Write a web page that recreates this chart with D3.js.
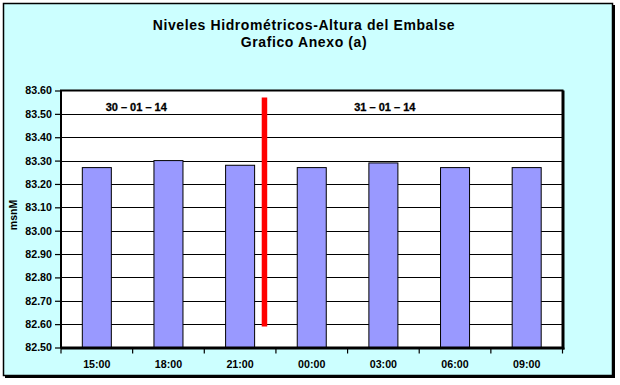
<!DOCTYPE html>
<html>
<head>
<meta charset="utf-8">
<script src="https://cdn.jsdelivr.net/npm/d3@7"></script>
<style>
html,body{margin:0;padding:0;background:#fff;}
svg{display:block;}
text{font-family:"Liberation Sans",Arial,sans-serif;font-weight:bold;fill:#000;}
</style>
</head>
<body>
<svg id="chart" width="620" height="385"></svg>
<script>
// ---- data ----
const categories = ["15:00","18:00","21:00","00:00","03:00","06:00","09:00"];
const levels = [83.27, 83.30, 83.28, 83.27, 83.29, 83.27, 83.27];
const yTicks = [82.50,82.60,82.70,82.80,82.90,83.00,83.10,83.20,83.30,83.40,83.50,83.60];
const titleLines = ["Niveles Hidrométricos-Altura del Embalse","Grafico Anexo (a)"];
const yAxisTitle = "msnM";
const dateLabels = ["30 – 01 – 14","31 – 01 – 14"];
const dateSlots = [1.05, 4.52];        // position along category axis (slots)
const dateLevel = 83.53;               // vertical level of date labels
const dividerSlot = 2.84;              // day divider along category axis (slots)
const dividerRange = [82.59, 83.57];   // divider extent in msnM

// ---- layout ----
const svg = d3.select("#chart");
const plot = {left:61, right:562.5, top:90.5, bottom:347.5};

// outer frame with shadow
svg.append("rect").attr("x",5).attr("y",5).attr("width",610).attr("height",373).attr("fill","#000");
svg.append("rect").attr("x",3.5).attr("y",3.5).attr("width",609).attr("height",372)
  .attr("fill","#CCFFFF").attr("stroke","#000").attr("stroke-width",1.5);

// title
svg.append("text").attr("x",304).attr("y",30).attr("text-anchor","middle")
  .style("font-size","14px").style("letter-spacing","0.6px").text(titleLines[0]);
svg.append("text").attr("x",304).attr("y",47).attr("text-anchor","middle")
  .style("font-size","14px").style("letter-spacing","0.6px").text(titleLines[1]);

const x = d3.scaleBand().domain(categories).range([plot.left, plot.right])
  .paddingInner(0.595).paddingOuter(0.2975);
const slot = d3.scaleLinear().domain([0, categories.length]).range([plot.left, plot.right]);
const y = d3.scaleLinear().domain([82.5, 83.6]).range([plot.bottom, plot.top]);

// plot area
svg.append("rect").attr("x",plot.left).attr("y",plot.top)
  .attr("width",plot.right-plot.left).attr("height",plot.bottom-plot.top)
  .attr("fill","#fff");

// gridlines
svg.append("g").selectAll("line").data(yTicks.slice(1,-1)).join("line")
  .attr("x1",plot.left).attr("x2",plot.right)
  .attr("y1",d=>Math.round(y(d))+0.5).attr("y2",d=>Math.round(y(d))+0.5)
  .attr("stroke","#000").attr("stroke-width",1);

// bars
svg.append("g").selectAll("rect").data(levels).join("rect")
  .attr("x",(d,i)=>x(categories[i]))
  .attr("y",d=>y(d))
  .attr("width",x.bandwidth())
  .attr("height",d=>plot.bottom-y(d))
  .attr("fill","#9999FF").attr("stroke","#000").attr("stroke-width",1);

// plot border (with heavier right/bottom)
svg.append("rect").attr("x",plot.left).attr("y",plot.top)
  .attr("width",plot.right-plot.left).attr("height",plot.bottom-plot.top)
  .attr("fill","none").attr("stroke","#000").attr("stroke-width",2);
svg.append("line").attr("x1",plot.right+1).attr("x2",plot.right+1)
  .attr("y1",plot.top).attr("y2",plot.bottom+2).attr("stroke","#000").attr("stroke-width",2);
svg.append("line").attr("x1",plot.left).attr("x2",plot.right+2)
  .attr("y1",plot.bottom+1).attr("y2",plot.bottom+1).attr("stroke","#000").attr("stroke-width",2);

// divider
svg.append("line").attr("x1",slot(dividerSlot)).attr("x2",slot(dividerSlot))
  .attr("y1",y(dividerRange[1])).attr("y2",y(dividerRange[0]))
  .attr("stroke","#FF0000").attr("stroke-width",5.5);

// date labels
svg.append("g").selectAll("text").data(dateLabels).join("text")
  .attr("x",(d,i)=>slot(dateSlots[i])).attr("y",y(dateLevel))
  .attr("text-anchor","middle").attr("dominant-baseline","central")
  .style("font-size","11px").style("stroke","#000").style("stroke-width","0.3px").text(d=>d);

// y axis
const yAxis = d3.axisLeft(y).tickValues(yTicks).tickFormat(d3.format(".2f")).tickSize(6).tickPadding(3);
const gy = svg.append("g").attr("transform",`translate(${plot.left},0)`).call(yAxis);
gy.select(".domain").remove();
gy.selectAll(".tick line").attr("stroke","#000").attr("stroke-width",1.2);
gy.selectAll("text").style("font-size","10.7px").style("font-family","'Liberation Sans',Arial,sans-serif").attr("fill","#000");

// x axis ticks at band boundaries
svg.append("g").selectAll("line").data(d3.range(categories.length+1)).join("line")
  .attr("x1",d=>slot(d)).attr("x2",d=>slot(d))
  .attr("y1",plot.bottom).attr("y2",plot.bottom+6)
  .attr("stroke","#000").attr("stroke-width",1.2);
svg.append("g").selectAll("text").data(categories).join("text")
  .attr("x",d=>x(d)+x.bandwidth()/2).attr("y",368)
  .attr("text-anchor","middle")
  .style("font-size","10.7px").text(d=>d);

// y axis title
svg.append("text").attr("transform","translate(17,215) rotate(-90)")
  .attr("text-anchor","middle").style("font-size","10.5px").text(yAxisTitle);
</script>
</body>
</html>
